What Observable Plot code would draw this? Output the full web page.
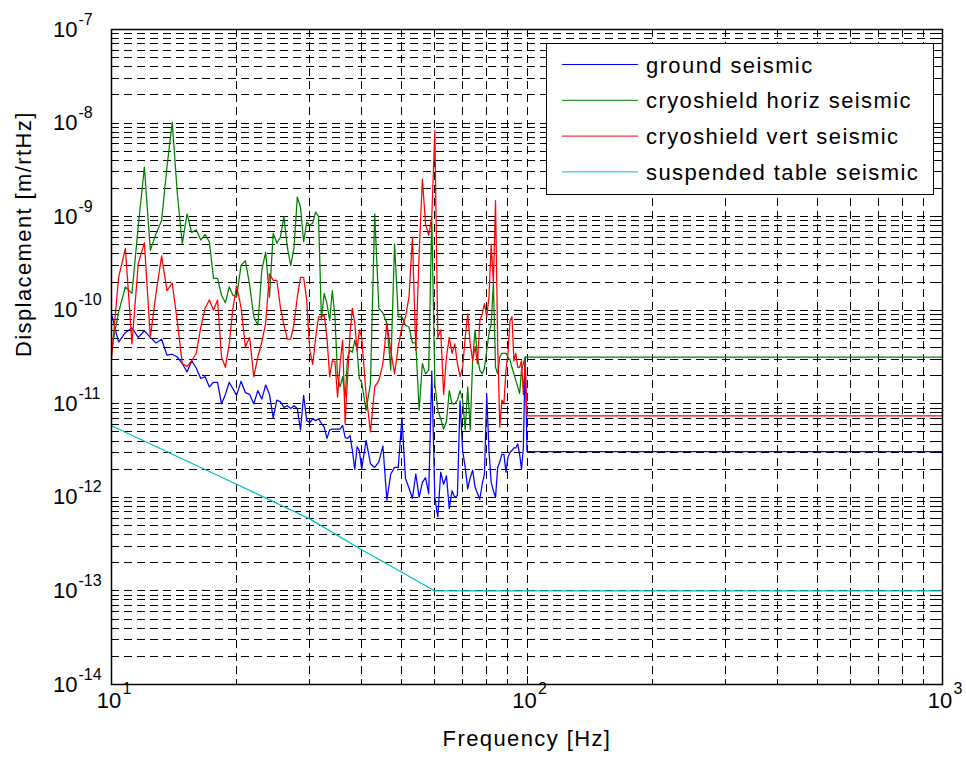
<!DOCTYPE html>
<html><head><meta charset="utf-8">
<script src="https://cdn.jsdelivr.net/npm/d3@7"></script>
<script src="https://cdn.jsdelivr.net/npm/@observablehq/plot@0.6"></script>
<style>
html,body{margin:0;padding:0;background:#fff;}
#wrap{position:relative;width:966px;height:763px;font-family:"Liberation Sans",Arial,Helvetica,sans-serif;}
</style></head><body><div id="wrap"></div>
<script>
// Frequency samples [Hz]
const freq = [
 10,10.4,10.8,11.2,11.6,12,12.4,12.8,13.2,13.6,
 14,14.4,14.8,15.2,15.6,16,16.4,16.8,17.2,17.6,
 18,18.4,18.8,19.2,19.6,20,20.5,21,21.5,22,
 22.5,23,23.5,24,24.5,25,25.5,26,26.5,27,
 27.5,28,28.5,29,29.5,30,30.5,31,31.5,32,
 32.5,33,33.5,34,34.5,35,35.5,36,36.5,37,
 37.5,38,38.5,39,39.5,40,41,42,43,44,
 45,46,47,48,49,50,51,52,53,54,
 55,56,57,58,59,60,61,62,63,64,
 65,66,67,68,69,70,71,72,73,74,
 75,76,77,78,79,80,81,82,83,84,
 85,86,87,88,89,90,91,92,93,94,
 95,96,97,98,99,100,1000];
// Displacement, as log10 of m/rtHz
const groundExp = [
 -10.04,-10.34,-10.24,-10.19,-10.29,-10.22,-10.29,-10.35,-10.31,-10.48,
 -10.47,-10.5,-10.57,-10.66,-10.54,-10.62,-10.73,-10.71,-10.82,-10.77,
 -10.77,-11.0,-10.9,-10.77,-10.84,-10.91,-10.76,-10.88,-10.9,-11.0,
 -10.86,-10.95,-10.8,-10.9,-11.15,-10.96,-10.98,-11.04,-11.02,-11.05,
 -11.02,-11.05,-11.28,-10.91,-11.18,-11.2,-11.16,-11.18,-11.16,-11.21,
 -11.25,-11.37,-11.28,-11.27,-11.27,-11.27,-11.27,-11.23,-11.36,-11.37,
 -11.34,-11.5,-11.7,-11.46,-11.5,-11.7,-11.39,-11.64,-11.68,-11.62,
 -11.45,-12.03,-11.75,-11.68,-11.68,-11.15,-11.8,-11.9,-12.01,-11.75,
 -12.0,-11.84,-11.79,-11.96,-10.65,-12.0,-12.21,-11.73,-11.86,-11.77,
 -12.12,-11.93,-12.0,-11.98,-10.97,-11.5,-11.68,-11.91,-11.79,-11.71,
 -11.89,-11.96,-12.02,-11.86,-11.75,-10.9,-11.5,-11.84,-11.93,-12.0,
 -11.68,-11.62,-11.54,-11.54,-11.73,-11.57,-11.52,-11.5,-11.47,-11.47,
 -11.43,-11.54,-11.7,-11.47,-10.5,-11.51,-11.51];
const horizExp = [
 -10.43,-10.02,-9.75,-9.82,-9.1,-8.47,-9.36,-9.18,-9.04,-8.47,
 -7.99,-8.75,-9.29,-8.97,-9.17,-9.14,-9.25,-9.19,-9.27,-9.66,
 -9.66,-9.84,-9.92,-9.75,-9.84,-9.86,-9.52,-9.47,-9.73,-10.07,
 -10.16,-9.57,-9.38,-9.86,-9.18,-9.28,-9.22,-9.0,-9.33,-9.52,
 -9.33,-8.79,-8.9,-9.27,-9.06,-9.09,-9.07,-8.95,-9.0,-10.1,
 -9.82,-9.93,-10.11,-9.79,-10.07,-10.71,-10.82,-10.71,-10.93,-10.5,
 -10.43,-10.45,-10.32,-10.43,-10.73,-10.77,-11.07,-10.78,-8.97,-9.98,
 -10.03,-10.14,-10.64,-9.29,-10.07,-10.07,-10.16,-10.18,-10.35,-10.35,
 -11.07,-10.57,-10.68,-10.64,-9.0,-10.78,-11.07,-11.16,-11.27,-11.19,
 -10.86,-11.0,-11.0,-10.96,-10.86,-10.96,-11.28,-10.82,-11.28,-10.53,
 -10.21,-10.5,-10.64,-10.68,-10.62,-10.43,-10.25,-10.14,-9.71,-10.61,
 -10.68,-10.5,-10.46,-10.46,-10.46,-10.5,-10.53,-10.61,-10.68,-10.75,
 -10.82,-10.89,-10.64,-10.57,-10.5,-10.5,-10.5];
const vertExp = [
 -10.52,-9.65,-9.34,-10.36,-9.5,-9.28,-10.29,-9.82,-9.42,-9.79,
 -9.71,-10.12,-10.57,-10.6,-10.54,-10.46,-10.18,-9.98,-9.89,-10.0,
 -9.89,-10.5,-10.61,-10.36,-9.98,-9.74,-9.97,-10.39,-10.29,-10.71,
 -10.5,-10.34,-10.14,-9.61,-9.68,-9.68,-9.97,-10.16,-10.31,-10.31,
 -10.14,-9.86,-9.65,-9.65,-9.89,-10.43,-10.58,-10.29,-10.07,-10.07,
 -10.05,-10.29,-10.71,-10.54,-10.55,-10.93,-10.57,-10.32,-11.21,-10.71,
 -10.25,-9.98,-10.14,-10.43,-10.21,-10.29,-10.9,-11.3,-10.82,-10.75,
 -10.57,-10.14,-10.43,-10.68,-10.39,-10.18,-10.07,-9.86,-9.22,-10.43,
 -9.4,-8.6,-9.08,-9.2,-9.0,-8.08,-10.29,-10.21,-10.9,-10.5,
 -10.29,-10.46,-10.36,-10.57,-10.71,-10.61,-10.29,-10.04,-10.36,-10.54,
 -10.39,-10.57,-10.11,-10.04,-9.93,-10.07,-9.86,-9.3,-9.7,-8.83,
 -10.36,-11.25,-10.96,-11.0,-10.64,-10.46,-10.11,-10.07,-10.54,-10.46,
 -10.61,-10.61,-10.54,-10.9,-10.54,-11.13,-11.13];
const suspFreq = [10, 20, 30, 40, 50, 60, 1000];
const suspExp = [-11.235, -11.86, -12.23, -12.56, -12.8, -13.0, -13.0];

const seriesNames = ["ground seismic","cryoshield horiz seismic","cryoshield vert seismic","suspended table seismic"];
const seriesColors = ["#0000ff","#008000","#ff0000","#00bfbf"];

const xTicks = [10, 100, 1000];
const xTickExponents = ["1","2","3"];
const yTicks = [1e-14,1e-13,1e-12,1e-11,1e-10,1e-9,1e-8,1e-7];
const yTickExponents = ["-14","-13","-12","-11","-10","-9","-8","-7"];
const xLabel = "Frequency [Hz]";
const yLabel = "Displacement [m/rtHz]";

[groundExp, horizExp, vertExp].forEach((a,i)=>{ if (a.length !== freq.length) console.error("length mismatch", i, a.length, freq.length); });

const rows = [];
[groundExp, horizExp, vertExp].forEach((arr, s) =>
  arr.forEach((e, i) => rows.push({series: seriesNames[s], f: freq[i], v: Math.pow(10, e)})));
suspExp.forEach((e, i) => rows.push({series: seriesNames[3], f: suspFreq[i], v: Math.pow(10, e)}));

// grid / tick positions (log decades and minors)
const xMinor = [], yMinor = [];
for (const d of [10, 100]) for (let k = 2; k <= 9; k++) xMinor.push(k * d);
for (let p = -14; p <= -8; p++) for (let k = 2; k <= 9; k++) yMinor.push(+(k + "e" + p));
const xGrid = xMinor.concat([100]);
const yGrid = yMinor.concat(yTicks.slice(1, -1));

const W = 966, H = 763, mL = 111, mR = 24, mT = 29, mB = 79;
const fH = H - mT - mB, fW = W - mL - mR;
const gridStyle = {stroke: "black", strokeWidth: 1, strokeDasharray: "8,5", shapeRendering: "crispEdges"};
const tickStyle = {stroke: "black", strokeWidth: 1, shapeRendering: "crispEdges"};
const pairs = (vals, labs) => vals.map((v, i) => ({v, e: labs[i]}));

const chart = Plot.plot({
  width: W, height: H,
  marginLeft: mL, marginRight: mR, marginTop: mT, marginBottom: mB,
  x: {type: "log", domain: [10, 1000], axis: null},
  y: {type: "log", domain: [1e-14, 1e-7], axis: null},
  color: {domain: seriesNames, range: seriesColors},
  style: {fontFamily: "'Liberation Sans', Arial, Helvetica, sans-serif", background: "white", overflow: "visible", color: "black"},
  marks: [
    Plot.ruleX(xGrid, {x: Plot.identity, ...gridStyle}),
    Plot.ruleY(yGrid, {y: Plot.identity, ...gridStyle}),
    // inward ticks on all four sides
    Plot.ruleX(xTicks, {x: Plot.identity, insetTop: fH - 8, ...tickStyle}),
    Plot.ruleX(xTicks, {x: Plot.identity, insetBottom: fH - 8, ...tickStyle}),
    Plot.ruleX(xMinor, {x: Plot.identity, insetTop: fH - 4, ...tickStyle}),
    Plot.ruleX(xMinor, {x: Plot.identity, insetBottom: fH - 4, ...tickStyle}),
    Plot.ruleY(yTicks, {y: Plot.identity, insetRight: fW - 8, ...tickStyle}),
    Plot.ruleY(yTicks, {y: Plot.identity, insetLeft: fW - 8, ...tickStyle}),
    Plot.ruleY(yMinor, {y: Plot.identity, insetRight: fW - 4, ...tickStyle}),
    Plot.ruleY(yMinor, {y: Plot.identity, insetLeft: fW - 4, ...tickStyle}),
    Plot.line(rows, {x: "f", y: "v", z: "series", stroke: "series", strokeWidth: 1.25}),
    Plot.frame({stroke: "black", strokeWidth: 1.5}),
    // y tick labels 10^n
    Plot.text(yTicks, {y: Plot.identity, frameAnchor: "left", text: () => "10", textAnchor: "end", dx: -34, fontSize: 22}),
    Plot.text(pairs(yTicks, yTickExponents), {y: "v", frameAnchor: "left", text: "e", textAnchor: "start", dx: -33, dy: -10, fontSize: 16}),
    // x tick labels 10^n
    Plot.text(xTicks, {x: Plot.identity, frameAnchor: "bottom", text: () => "10", textAnchor: "middle", dx: -2.5, dy: 23, fontSize: 22}),
    Plot.text(pairs(xTicks, xTickExponents), {x: "v", frameAnchor: "bottom", text: "e", textAnchor: "start", dx: 11, dy: 9, fontSize: 16}),
    // axis titles
    Plot.text([xLabel], {frameAnchor: "bottom", text: Plot.identity, dy: 61, fontSize: 22}),
    Plot.text([yLabel], {frameAnchor: "left", text: Plot.identity, rotate: -90, dx: -88, fontSize: 22})
  ]
});
d3.select(chart).selectAll("text").filter(function(){ return this.textContent === xLabel || this.textContent === yLabel; })
  .attr("letter-spacing", "1.4px");

const wrap = document.getElementById("wrap");
wrap.appendChild(chart);

// legend box (overlaid inside the plot area, upper right)
const lg = d3.create("svg").attr("width", 389).attr("height", 153)
  .style("position", "absolute").style("left", "545px").style("top", "42px")
  .style("font-family", "'Liberation Sans', Arial, Helvetica, sans-serif");
lg.append("rect").attr("x", 1).attr("y", 1).attr("width", 387).attr("height", 151)
  .attr("fill", "white").attr("stroke", "black").attr("stroke-width", 1).attr("shape-rendering", "crispEdges");
seriesNames.forEach((n, i) => {
  const yy = 22.5 + i * 35.8;
  lg.append("line").attr("x1", 17).attr("x2", 93).attr("y1", yy).attr("y2", yy)
    .attr("stroke", seriesColors[i]).attr("stroke-width", 1);
  lg.append("text").attr("x", 101).attr("y", yy + 8).attr("font-size", 22)
    .attr("letter-spacing", "1.4px").attr("fill", "black").text(n);
});
wrap.appendChild(lg.node());
</script></body></html>
